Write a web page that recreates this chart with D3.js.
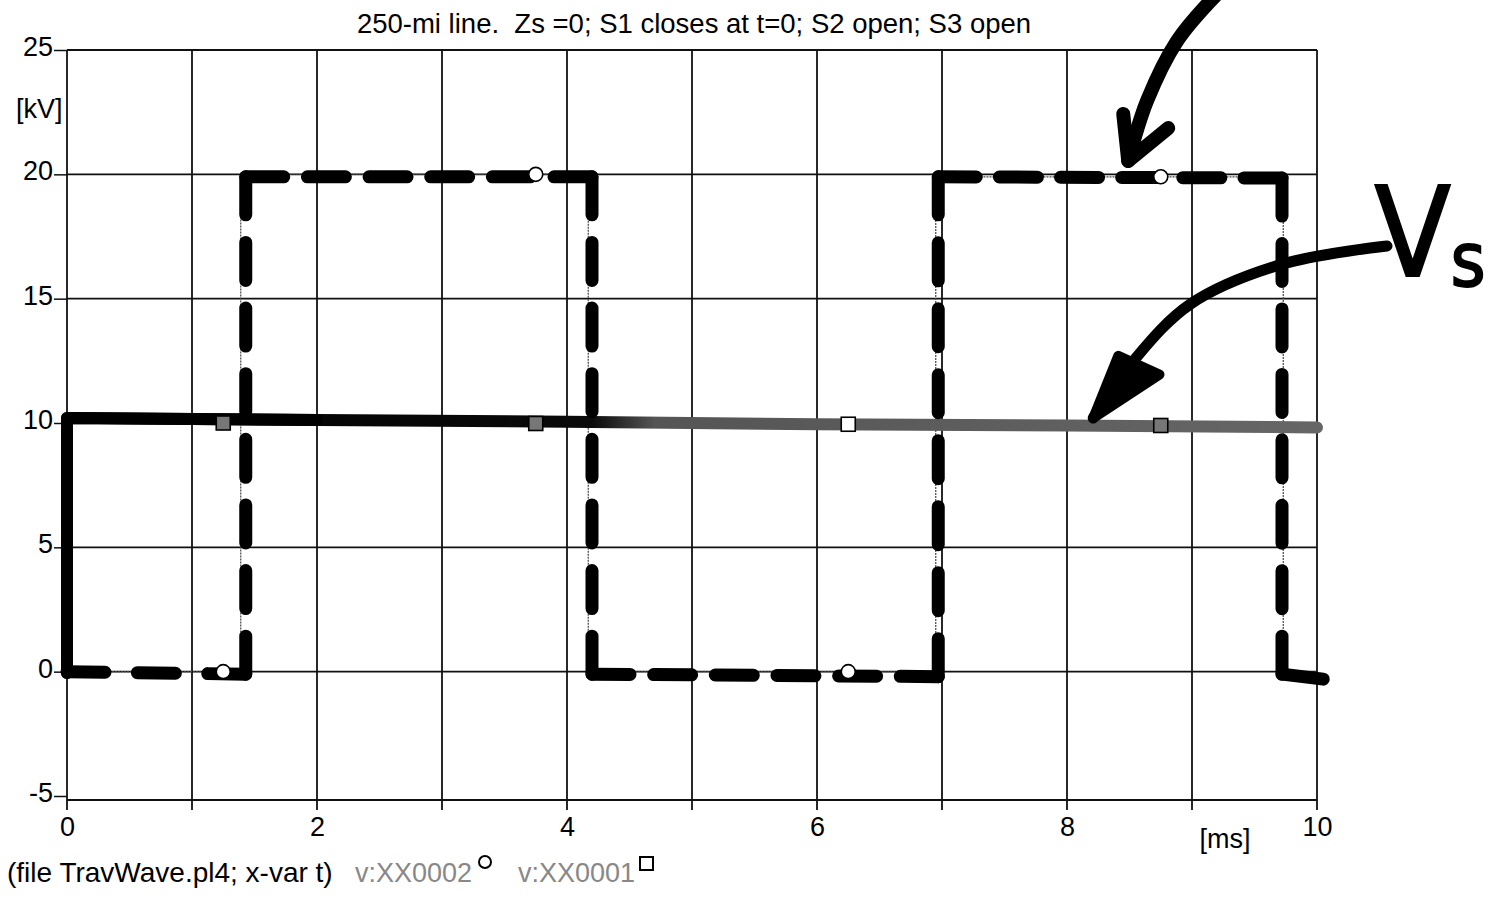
<!DOCTYPE html>
<html>
<head>
<meta charset="utf-8">
<script src="https://cdn.jsdelivr.net/npm/d3@7"></script>
<style>
  body { margin: 0; background: #fff; }
  svg { display: block; font-family: "Liberation Sans", Arial, sans-serif; }
</style>
</head>
<body>
<div id="chart"></div>
<script>
// simulated traces (ATP plot)
const tXX0002 = [0, 1.39, 1.39, 4.17, 4.17, 6.95, 6.95, 9.73, 9.73, 10];
const vXX0002 = [0, 0, 20, 20, 0, 0, 19.9, 19.9, 0, 0];
const tXX0001 = [0, 0, 1.25, 2.5, 3.75, 5, 6.25, 7.5, 8.75, 10];
const vXX0001 = [0, 10.05, 10.0, 9.98, 9.98, 9.95, 9.95, 9.92, 9.9, 9.88];
const markerT = [1.25, 3.75, 6.25, 8.75];
const markerV2 = [0, 20, 0, 19.9];
const markerV1 = [10.0, 9.98, 9.95, 9.9];

// hand-drawn overlays
const sketchDashT = [0, 1.43, 1.43, 4.2, 4.2, 6.97, 6.97, 9.72, 9.72, 10.05];
const sketchDashV = [0, -0.1, 19.9, 19.9, -0.1, -0.2, 19.9, 19.85, -0.1, -0.3];
const sketchVsT = [0, 0, 2, 4, 6, 8, 10];
const sketchVsV = [-0.05, 10.2, 10.12, 10.05, 9.95, 9.9, 9.82];

// arrows (data coords)
const arrowTopT = [9.19, 8.88, 8.64, 8.49];
const arrowTopV = [27.2, 25.36, 22.95, 20.54];
const arrowTopHeadT = [8.45, 8.49, 8.81];
const arrowTopHeadV = [22.43, 20.54, 21.86];
const arrowVsT = [10.56, 9.73, 8.99, 8.53, 8.21];
const arrowVsV = [17.12, 16.4, 14.79, 12.49, 10.2];
const arrowVsHeadT = [8.41, 8.21, 8.74];
const arrowVsHeadV = [12.7, 10.2, 11.95];

const xTicks = [0, 2, 4, 6, 8, 10];
const yTicks = [-5, 0, 5, 10, 15, 20, 25];
const titleText = "250-mi line.  Zs =0; S1 closes at t=0; S2 open; S3 open";

const W = 1501, H = 899;
const svg = d3.select("#chart").append("svg")
  .attr("width", W)
  .attr("height", H);

const x = d3.scaleLinear().domain([0, 10]).range([67, 1317]);
const y = d3.scaleLinear().domain([-5, 25]).range([796, 50]);

// grid
const grid = svg.append("g").attr("stroke", "#111").attr("stroke-width", 1.8);
grid.selectAll(".gx")
  .data(d3.range(0, 11))
  .enter().append("line")
  .attr("x1", d => x(d)).attr("x2", d => x(d))
  .attr("y1", y(25)).attr("y2", y(-5) + 14);
grid.selectAll(".gy")
  .data(yTicks)
  .enter().append("line")
  .attr("x1", x(0)).attr("x2", x(10))
  .attr("y1", d => d === -5 ? y(d) + 4 : y(d))
  .attr("y2", d => d === -5 ? y(d) + 4 : y(d));

// axes
const yAxis = svg.append("g")
  .attr("transform", "translate(" + x(0) + ",0)")
  .call(d3.axisLeft(y).tickValues(yTicks).tickFormat(d => String(d)).tickSize(13).tickPadding(1));
yAxis.select(".domain").remove();
yAxis.selectAll("line").attr("stroke", "#111").attr("stroke-width", 1.5);
yAxis.selectAll("text").style("font-size", "27px").attr("fill", "#000")
  .attr("font-family", "Liberation Sans, Arial, sans-serif")
  .attr("dy", "0.2em");

const xAxis = svg.append("g")
  .attr("transform", "translate(0," + (y(-5) + 4) + ")")
  .call(d3.axisBottom(x).tickValues(xTicks).tickSize(0).tickPadding(17));
xAxis.select(".domain").remove();
xAxis.selectAll("text").style("font-size", "27px").attr("fill", "#000")
  .attr("font-family", "Liberation Sans, Arial, sans-serif");

svg.append("text")
  .attr("x", 16).attr("y", 118)
  .style("font-size", "27px")
  .text("[kV]");
svg.append("text")
  .attr("x", 1225).attr("y", 848)
  .attr("text-anchor", "middle")
  .style("font-size", "27px")
  .text("[ms]");

// title
svg.append("text")
  .attr("x", 694).attr("y", 33)
  .attr("text-anchor", "middle")
  .style("font-size", "27.5px")
  .style("white-space", "pre")
  .attr("xml:space", "preserve")
  .text(titleText);

// thin simulated traces
const pts = (ts, vs) => ts.map((t, i) => [t, vs[i]]);
const line = d3.line().x(d => x(d[0])).y(d => y(d[1]));

svg.append("path")
  .datum(pts(tXX0001, vXX0001))
  .attr("fill", "none").attr("stroke", "#444").attr("stroke-width", 1.2)
  .attr("d", line);
svg.append("path")
  .datum(pts(tXX0002, vXX0002))
  .attr("fill", "none").attr("stroke", "#444").attr("stroke-width", 1.2)
  .attr("stroke-dasharray", "2 1")
  .attr("d", line);

// hand-drawn Vs overlay
const defs = svg.append("defs");
const grad = defs.append("linearGradient")
  .attr("id", "vsGrad")
  .attr("gradientUnits", "userSpaceOnUse")
  .attr("x1", x(0)).attr("x2", x(10)).attr("y1", 0).attr("y2", 0);
grad.append("stop").attr("offset", "0").attr("stop-color", "#000");
grad.append("stop").attr("offset", "0.42").attr("stop-color", "#0a0a0a");
grad.append("stop").attr("offset", "0.47").attr("stop-color", "#555");
grad.append("stop").attr("offset", "1").attr("stop-color", "#666");

svg.append("path")
  .datum(pts(sketchVsT, sketchVsV))
  .attr("fill", "none").attr("stroke", "url(#vsGrad)")
  .attr("stroke-width", 12)
  .attr("stroke-linejoin", "round").attr("stroke-linecap", "round")
  .attr("d", line);
// left vertical stays black
svg.append("path")
  .datum(pts(sketchVsT.slice(0, 3), sketchVsV.slice(0, 3)))
  .attr("fill", "none").attr("stroke", "#000")
  .attr("stroke-width", 12)
  .attr("stroke-linejoin", "round").attr("stroke-linecap", "round")
  .attr("d", line);

// hand-drawn dashed overlay, one segment at a time so corners stay solid
const dashLen = 38, gapTarget = 26;
const dashPts = pts(sketchDashT, sketchDashV);
for (let i = 0; i < dashPts.length - 1; i++) {
  const a = dashPts[i], b = dashPts[i + 1];
  const L = Math.hypot(x(b[0]) - x(a[0]), y(b[1]) - y(a[1]));
  const n = Math.round((L + gapTarget) / (dashLen + gapTarget));
  const p = svg.append("path")
    .datum([a, b])
    .attr("fill", "none").attr("stroke", "#000")
    .attr("stroke-width", 13)
    .attr("stroke-linecap", "round")
    .attr("d", line);
  if (n > 1) {
    const g = (L - n * dashLen) / (n - 1);
    p.attr("stroke-dasharray", dashLen + " " + g);
  }
}

// markers
svg.append("g").selectAll("circle")
  .data(markerT)
  .enter().append("circle")
  .attr("cx", d => x(d))
  .attr("cy", (d, i) => y(markerV2[i]))
  .attr("r", 7)
  .attr("fill", "#fff").attr("stroke", "#000").attr("stroke-width", 1.6);
svg.append("g").selectAll("rect")
  .data(markerT)
  .enter().append("rect")
  .attr("x", d => x(d) - 7)
  .attr("y", (d, i) => y(markerV1[i]) - 7)
  .attr("width", 14).attr("height", 14)
  .attr("fill", (d, i) => i === 2 ? "#fff" : "#777")
  .attr("stroke", "#000").attr("stroke-width", 1.6);

// hand-drawn arrows
const curve = d3.line().x(d => x(d[0])).y(d => y(d[1])).curve(d3.curveCatmullRom);
const ann = svg.append("g").attr("fill", "none").attr("stroke", "#000")
  .attr("stroke-linecap", "round").attr("stroke-linejoin", "round");
ann.append("path").datum(pts(arrowTopT, arrowTopV))
  .attr("stroke-width", 14).attr("d", curve);
ann.append("path").datum(pts(arrowTopHeadT, arrowTopHeadV))
  .attr("stroke-width", 14).attr("d", line);
ann.append("path").datum(pts(arrowVsT, arrowVsV))
  .attr("stroke-width", 11).attr("d", curve);
ann.append("path").datum(pts(arrowVsHeadT, arrowVsHeadV))
  .attr("stroke-width", 10).attr("fill", "#000")
  .attr("d", d => line(d) + "Z");

// hand-written label "Vs"
const handFont = "DejaVu Sans Condensed, DejaVu Sans, sans-serif";
svg.append("text")
  .attr("x", x(10.46)).attr("y", y(15.9))
  .attr("fill", "#000").attr("stroke", "#000").attr("stroke-width", 2)
  .style("font-family", handFont).style("font-size", "124px")
  .text("V");
svg.append("text")
  .attr("x", x(11.07)).attr("y", y(15.5))
  .attr("fill", "#000").attr("stroke", "#000").attr("stroke-width", 2)
  .style("font-family", handFont).style("font-size", "74px")
  .text("s");

// footer legend
svg.append("text")
  .attr("x", 7).attr("y", 882)
  .style("font-size", "28px")
  .attr("fill", "#000")
  .text("(file TravWave.pl4; x-var t)");
svg.append("text")
  .attr("x", 355).attr("y", 882)
  .style("font-size", "27px").attr("fill", "#888")
  .text("v:XX0002");
svg.append("circle").attr("cx", 485).attr("cy", 862).attr("r", 6)
  .attr("fill", "none").attr("stroke", "#000").attr("stroke-width", 2);
svg.append("text")
  .attr("x", 518).attr("y", 882)
  .style("font-size", "27px").attr("fill", "#888")
  .text("v:XX0001");
svg.append("rect").attr("x", 640).attr("y", 857).attr("width", 13).attr("height", 13)
  .attr("fill", "none").attr("stroke", "#000").attr("stroke-width", 2);
</script>
</body>
</html>
